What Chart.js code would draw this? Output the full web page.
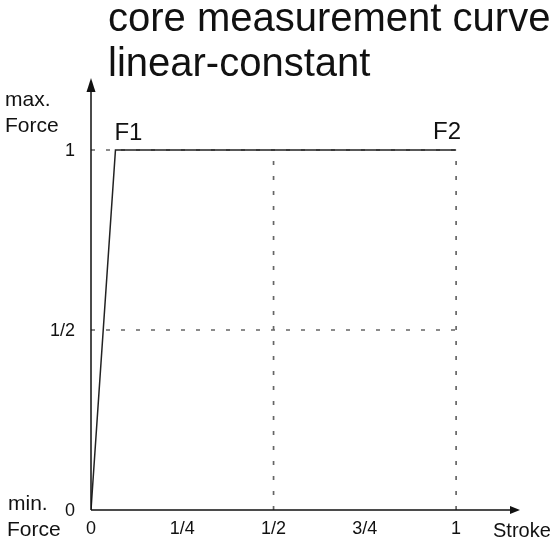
<!DOCTYPE html>
<html>
<head>
<meta charset="utf-8">
<script src="https://cdn.jsdelivr.net/npm/chart.js@4.4.1/dist/chart.umd.min.js"></script>
<style>
  html, body { margin: 0; padding: 0; background: #fff; }
  canvas { display: block; }
</style>
</head>
<body>
<canvas id="curve" width="557" height="541"></canvas>
<script>
"use strict";

// curve data: stroke (x) vs force (y)
const strokeValues = [0, 0.067, 1];
const forceValues = [0, 1, 1];

// tick labels
const xTickValues = [0, 0.25, 0.5, 0.75, 1];
const xTickLabels = ["0", "1/4", "1/2", "3/4", "1"];
const yTickValues = [0, 0.5, 1];
const yTickLabels = ["0", "1/2", "1"];

// dashed guide lines
const guideForces = [0.5, 1];
const guideStrokes = [0.5, 1];

// point names on the curve
const pointNames = ["F1", "F2"];
const pointIndex = [1, 2];

const titleLines = ["core measurement curve", "linear-constant"];
const FONT = "'Liberation Sans', Arial, sans-serif";

// build datasets
var datasets = [];
guideForces.forEach(function (f) {
    datasets.push({
        data: [{x: 0, y: f}, {x: 1, y: f}],
        borderColor: "#666",
        borderWidth: 1.7,
        borderDash: [4, 11],
        showLine: true,
        pointRadius: 0
    });
});
guideStrokes.forEach(function (s) {
    datasets.push({
        data: [{x: s, y: 0}, {x: s, y: 1}],
        borderColor: "#666",
        borderWidth: 1.7,
        borderDash: [4, 11],
        showLine: true,
        pointRadius: 0
    });
});
datasets.unshift({
    data: strokeValues.map(function (s, i) { return {x: s, y: forceValues[i]}; }),
    borderColor: "#222",
    borderWidth: 1.5,
    showLine: true,
    pointRadius: 0,
    tension: 0
});

// axes with arrows and all the text
var decorations = {
    id: "decorations",
    afterDatasetsDraw: function (chart) {
        var ctx = chart.ctx,
            xs = chart.scales.x,
            ys = chart.scales.y,
            x0 = xs.getPixelForValue(0),
            y0 = ys.getPixelForValue(0),
            xEnd = xs.getPixelForValue(xs.max),
            yEnd = ys.getPixelForValue(ys.max);

        ctx.save();
        ctx.strokeStyle = "#111";
        ctx.fillStyle = "#111";
        ctx.lineWidth = 1.5;
        ctx.beginPath();
        ctx.moveTo(x0, y0);
        ctx.lineTo(xEnd - 6, y0);
        ctx.moveTo(x0, y0);
        ctx.lineTo(x0, yEnd + 6);
        ctx.stroke();
        // arrow heads
        ctx.beginPath();
        ctx.moveTo(xEnd, y0);
        ctx.lineTo(xEnd - 10, y0 - 4);
        ctx.lineTo(xEnd - 10, y0 + 4);
        ctx.closePath();
        ctx.fill();
        ctx.beginPath();
        ctx.moveTo(x0, yEnd);
        ctx.lineTo(x0 - 4.5, yEnd + 14);
        ctx.lineTo(x0 + 4.5, yEnd + 14);
        ctx.closePath();
        ctx.fill();

        // tick labels
        ctx.fillStyle = "#111";
        ctx.font = "18px " + FONT;
        ctx.textAlign = "center";
        ctx.textBaseline = "top";
        xTickValues.forEach(function (v, i) {
            ctx.fillText(xTickLabels[i], xs.getPixelForValue(v), y0 + 10);
        });
        ctx.textAlign = "right";
        ctx.textBaseline = "middle";
        yTickValues.forEach(function (v, i) {
            ctx.fillText(yTickLabels[i], x0 - 16, ys.getPixelForValue(v) + 1);
        });

        // point names
        ctx.font = "24px " + FONT;
        ctx.textAlign = "left";
        ctx.textBaseline = "alphabetic";
        ctx.fillText(pointNames[0], xs.getPixelForValue(strokeValues[pointIndex[0]]) - 1,
            ys.getPixelForValue(forceValues[pointIndex[0]]) - 10);
        ctx.fillText(pointNames[1], xs.getPixelForValue(strokeValues[pointIndex[1]]) - 23,
            ys.getPixelForValue(forceValues[pointIndex[1]]) - 11);

        // axis names
        ctx.font = "21px " + FONT;
        ctx.fillText("max.", 5, 106);
        ctx.fillText("Force", 5, 132);
        ctx.fillText("min.", 8, y0);
        ctx.fillText("Force", 7, y0 + 26);
        ctx.font = "20px " + FONT;
        ctx.fillText("Stroke", 493, y0 + 27);

        // title
        ctx.font = "40px " + FONT;
        ctx.fillText(titleLines[0], 108, 31);
        ctx.fillText(titleLines[1], 108, 76);
        ctx.restore();
    }
};

var chart = new Chart(document.getElementById("curve").getContext("2d"), {
    type: "scatter",
    data: {datasets: datasets},
    options: {
        responsive: false,
        animation: false,
        layout: {padding: {left: 91, right: 37, top: 78, bottom: 31}},
        plugins: {legend: {display: false}, tooltip: {enabled: false}},
        scales: {
            x: {type: "linear", display: false, min: 0, max: 1.175},
            y: {type: "linear", display: false, min: 0, max: 1.2}
        }
    },
    plugins: [decorations]
});
</script>
</body>
</html>
